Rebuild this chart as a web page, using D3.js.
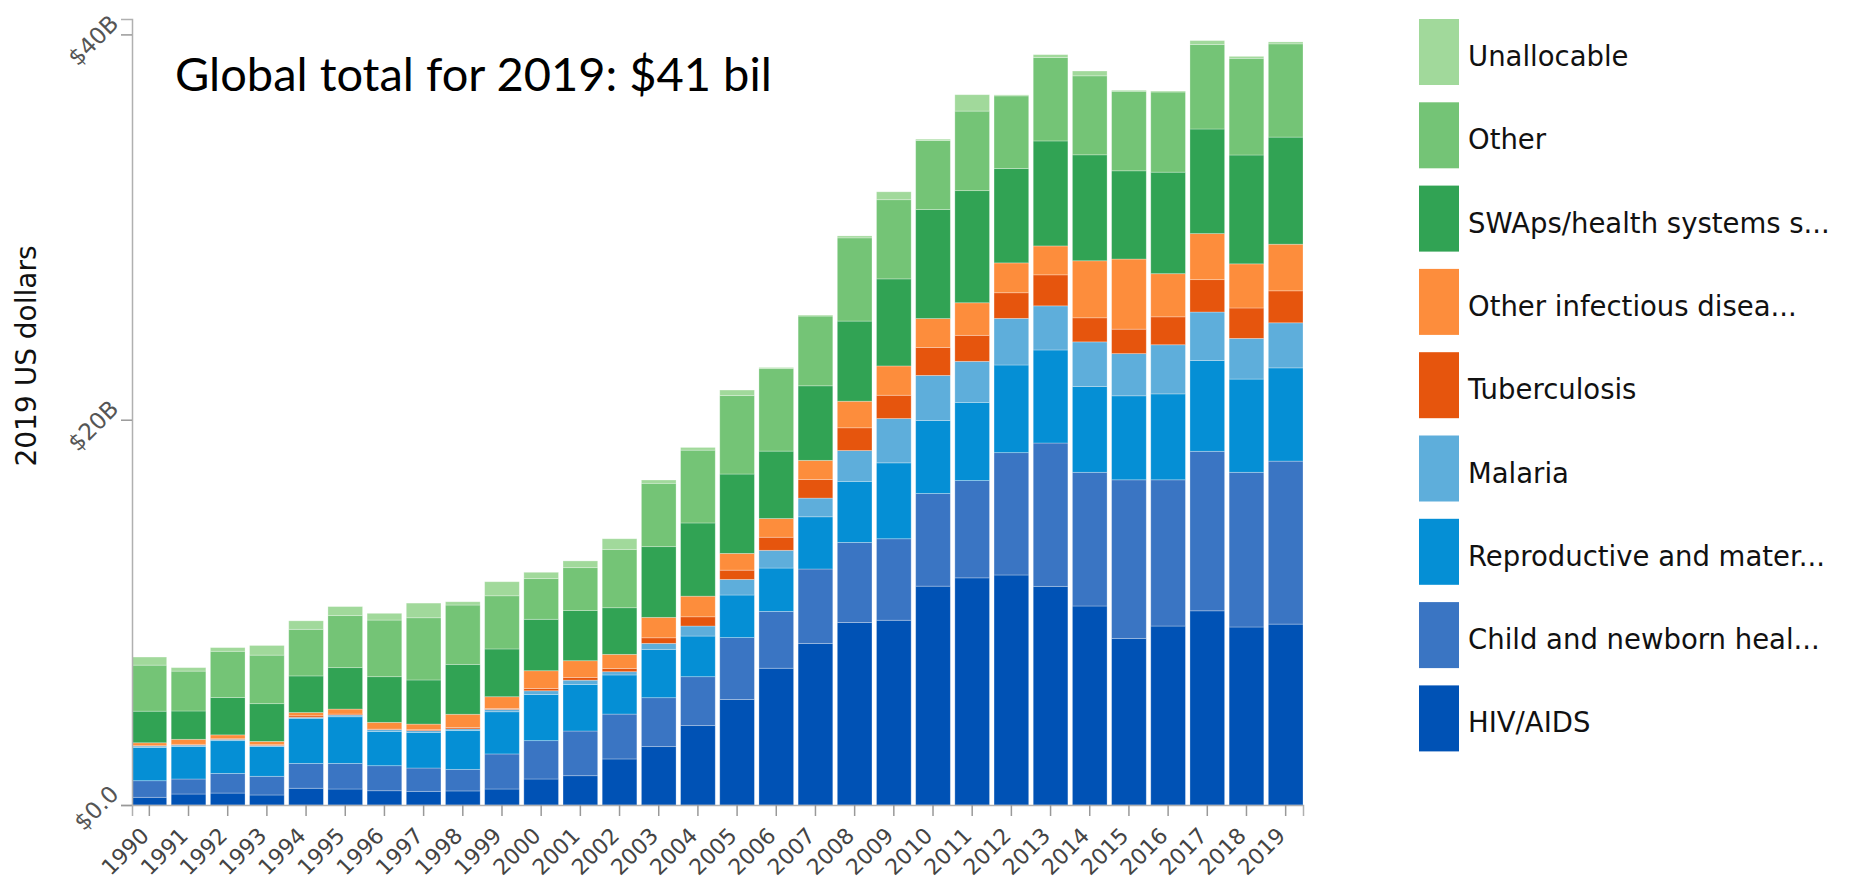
<!DOCTYPE html>
<html>
<head>
<meta charset="utf-8">
<script src="https://cdn.jsdelivr.net/npm/d3@7"></script>
<style>
  body { margin: 0; background: #fff; }
  svg { display: block; }
</style>
</head>
<body>
<div id="chart"></div>
<script>
// years on the x axis
const years = ["1990", "1991", "1992", "1993", "1994", "1995", "1996", "1997", "1998", "1999",
  "2000", "2001", "2002", "2003", "2004", "2005", "2006", "2007", "2008", "2009",
  "2010", "2011", "2012", "2013", "2014", "2015", "2016", "2017", "2018", "2019"];

// series, bottom of the stack first (billions of 2019 US dollars)
const hivAids     = [0.40, 0.57, 0.62, 0.52, 0.87, 0.83, 0.74, 0.71, 0.73, 0.83, 1.35, 1.52, 2.39, 3.03, 4.12, 5.48, 7.10, 8.39, 9.47, 9.59, 11.36, 11.79, 11.94, 11.35, 10.33, 8.65, 9.29, 10.08, 9.24, 9.39];
const childHealth = [0.86, 0.78, 1.02, 0.97, 1.29, 1.33, 1.30, 1.21, 1.12, 1.82, 1.99, 2.32, 2.33, 2.54, 2.54, 3.21, 2.95, 3.86, 4.16, 4.23, 4.81, 5.05, 6.35, 7.44, 6.94, 8.23, 7.59, 8.28, 8.03, 8.46];
const reproHealth = [1.73, 1.68, 1.70, 1.54, 2.34, 2.42, 1.78, 1.85, 2.01, 2.19, 2.40, 2.42, 2.03, 2.51, 2.11, 2.21, 2.25, 2.71, 3.17, 3.94, 3.79, 4.06, 4.55, 4.83, 4.45, 4.36, 4.46, 4.71, 4.84, 4.84];
const malaria     = [0.07, 0.08, 0.07, 0.06, 0.05, 0.09, 0.09, 0.09, 0.09, 0.12, 0.19, 0.22, 0.17, 0.31, 0.52, 0.81, 0.92, 0.97, 1.60, 2.30, 2.34, 2.13, 2.42, 2.29, 2.32, 2.19, 2.55, 2.52, 2.11, 2.34];
const tuberculosis = [0.02, 0.04, 0.03, 0.04, 0.08, 0.05, 0.03, 0.05, 0.07, 0.05, 0.12, 0.14, 0.17, 0.29, 0.48, 0.48, 0.68, 0.97, 1.18, 1.21, 1.45, 1.35, 1.33, 1.61, 1.25, 1.27, 1.45, 1.68, 1.58, 1.66];
const otherInfectious = [0.15, 0.26, 0.20, 0.17, 0.17, 0.26, 0.35, 0.29, 0.69, 0.61, 0.92, 0.87, 0.73, 1.06, 1.07, 0.87, 0.97, 0.99, 1.38, 1.52, 1.50, 1.69, 1.55, 1.50, 2.96, 3.64, 2.24, 2.39, 2.29, 2.42];
const swaps       = [1.64, 1.47, 1.94, 1.96, 1.90, 2.15, 2.37, 2.29, 2.59, 2.48, 2.67, 2.60, 2.42, 3.67, 3.80, 4.12, 3.50, 3.87, 4.16, 4.52, 5.66, 5.82, 4.90, 5.45, 5.50, 4.58, 5.27, 5.43, 5.65, 5.56];
const other       = [2.39, 2.07, 2.40, 2.52, 2.42, 2.70, 2.94, 3.23, 3.08, 2.76, 2.11, 2.23, 3.03, 3.29, 3.78, 4.07, 4.28, 3.62, 4.32, 4.11, 3.58, 4.13, 3.77, 4.33, 4.10, 4.13, 4.16, 4.39, 5.02, 4.84];
const unallocable = [0.42, 0.18, 0.19, 0.50, 0.44, 0.47, 0.35, 0.76, 0.17, 0.73, 0.33, 0.35, 0.55, 0.17, 0.14, 0.29, 0.06, 0.05, 0.10, 0.41, 0.07, 0.85, 0.05, 0.15, 0.25, 0.05, 0.05, 0.20, 0.10, 0.10];

const seriesKeys = ["HIV/AIDS", "Child and newborn heal...", "Reproductive and mater...", "Malaria",
  "Tuberculosis", "Other infectious disea...", "SWAps/health systems s...", "Other", "Unallocable"];
const seriesValues = [hivAids, childHealth, reproHealth, malaria, tuberculosis, otherInfectious, swaps, other, unallocable];
const seriesColors = ["#0052b5", "#3a75c3", "#058fd5", "#5eaedb", "#e6550d", "#fd8d3c", "#31a354", "#74c476", "#a1d99b"];

const yTicks = [0, 20e9, 40e9];
const title = "Global total for 2019: $41 bil";
const yLabel = "2019 US dollars";

// build rows for d3.stack
const rows = years.map((yr, i) => {
  const row = { year: yr };
  seriesKeys.forEach((k, j) => { row[k] = seriesValues[j][i] * 1e9; });
  return row;
});

const width = 1849;
const height = 879;
const marginLeft = 132;
const plotRight = 1303;
const plotTop = 19;
const plotBottom = 805;

const svg = d3.select("#chart")
  .append("svg")
  .attr("width", width)
  .attr("height", height);

const x = d3.scaleBand()
  .domain(years)
  .range([marginLeft, plotRight])
  .paddingInner(0.115)
  .paddingOuter(0);

const y = d3.scaleLinear()
  .domain([0, 40.8e9])
  .range([plotBottom, plotTop]);

const color = d3.scaleOrdinal()
  .domain(seriesKeys)
  .range(seriesColors);

const stacked = d3.stack().keys(seriesKeys)(rows);

// bars
svg.append("g")
  .selectAll("g")
  .data(stacked)
  .join("g")
  .attr("fill", d => color(d.key))
  .selectAll("rect")
  .data(d => d)
  .join("rect")
  .attr("x", d => x(d.data.year))
  .attr("y", d => y(d[1]))
  .attr("width", x.bandwidth())
  .attr("height", d => y(d[0]) - y(d[1]))
  .attr("stroke", "#fff")
  .attr("stroke-opacity", 0.35)
  .attr("stroke-width", 0.8);

const fmt = d3.format("$.2s");

// y axis
svg.append("g")
  .attr("transform", `translate(${marginLeft},0)`)
  .call(d3.axisLeft(y).tickValues(yTicks).tickSize(11).tickFormat(d => fmt(d).replace("G", "B")))
  .call(g => g.select(".domain").attr("stroke", "#b0b0b0").attr("stroke-width", 1.5))
  .call(g => g.selectAll(".tick line").attr("stroke", "#999").attr("stroke-width", 1.5))
  .call(g => g.selectAll(".tick text")
    .attr("x", 0)
    .attr("dy", 0)
    .attr("text-anchor", "end")
    .attr("transform", "translate(-12,-10) rotate(-45)")
    .attr("fill", "#555")
    .style("font", "23px 'DejaVu Sans', sans-serif"));

// x axis
svg.append("g")
  .attr("transform", `translate(0,${plotBottom})`)
  .call(d3.axisBottom(x).tickSize(11))
  .call(g => g.select(".domain").attr("stroke", "#b0b0b0").attr("stroke-width", 1.5))
  .call(g => g.selectAll(".tick line").attr("stroke", "#999").attr("stroke-width", 1.5))
  .call(g => g.selectAll(".tick text")
    .attr("x", 0)
    .attr("y", 0)
    .attr("dy", 0)
    .attr("text-anchor", "end")
    .attr("transform", "translate(1,32) rotate(-45)")
    .attr("fill", "#444")
    .style("font", "22px 'DejaVu Sans', sans-serif"));

// y label
svg.append("text")
  .attr("transform", "translate(36,356) rotate(-90)")
  .attr("text-anchor", "middle")
  .attr("fill", "#111")
  .style("font", "28px 'DejaVu Sans', sans-serif")
  .text(yLabel);

// title
svg.append("text")
  .attr("x", 175)
  .attr("y", 91)
  .attr("fill", "#000")
  .style("font", "47px Lato, sans-serif")
  .text(title);

// legend, top of the stack first
const legend = svg.append("g")
  .attr("transform", "translate(1419,19)")
  .selectAll("g")
  .data(seriesKeys.slice().reverse())
  .join("g")
  .attr("transform", (d, i) => `translate(0,${i * 83.3})`);

legend.append("rect")
  .attr("width", 40)
  .attr("height", 66)
  .attr("fill", d => color(d));

legend.append("text")
  .attr("x", 49)
  .attr("y", 47)
  .attr("fill", "#111")
  .style("font", "27.5px 'DejaVu Sans', sans-serif")
  .text(d => d);
</script>
</body>
</html>
